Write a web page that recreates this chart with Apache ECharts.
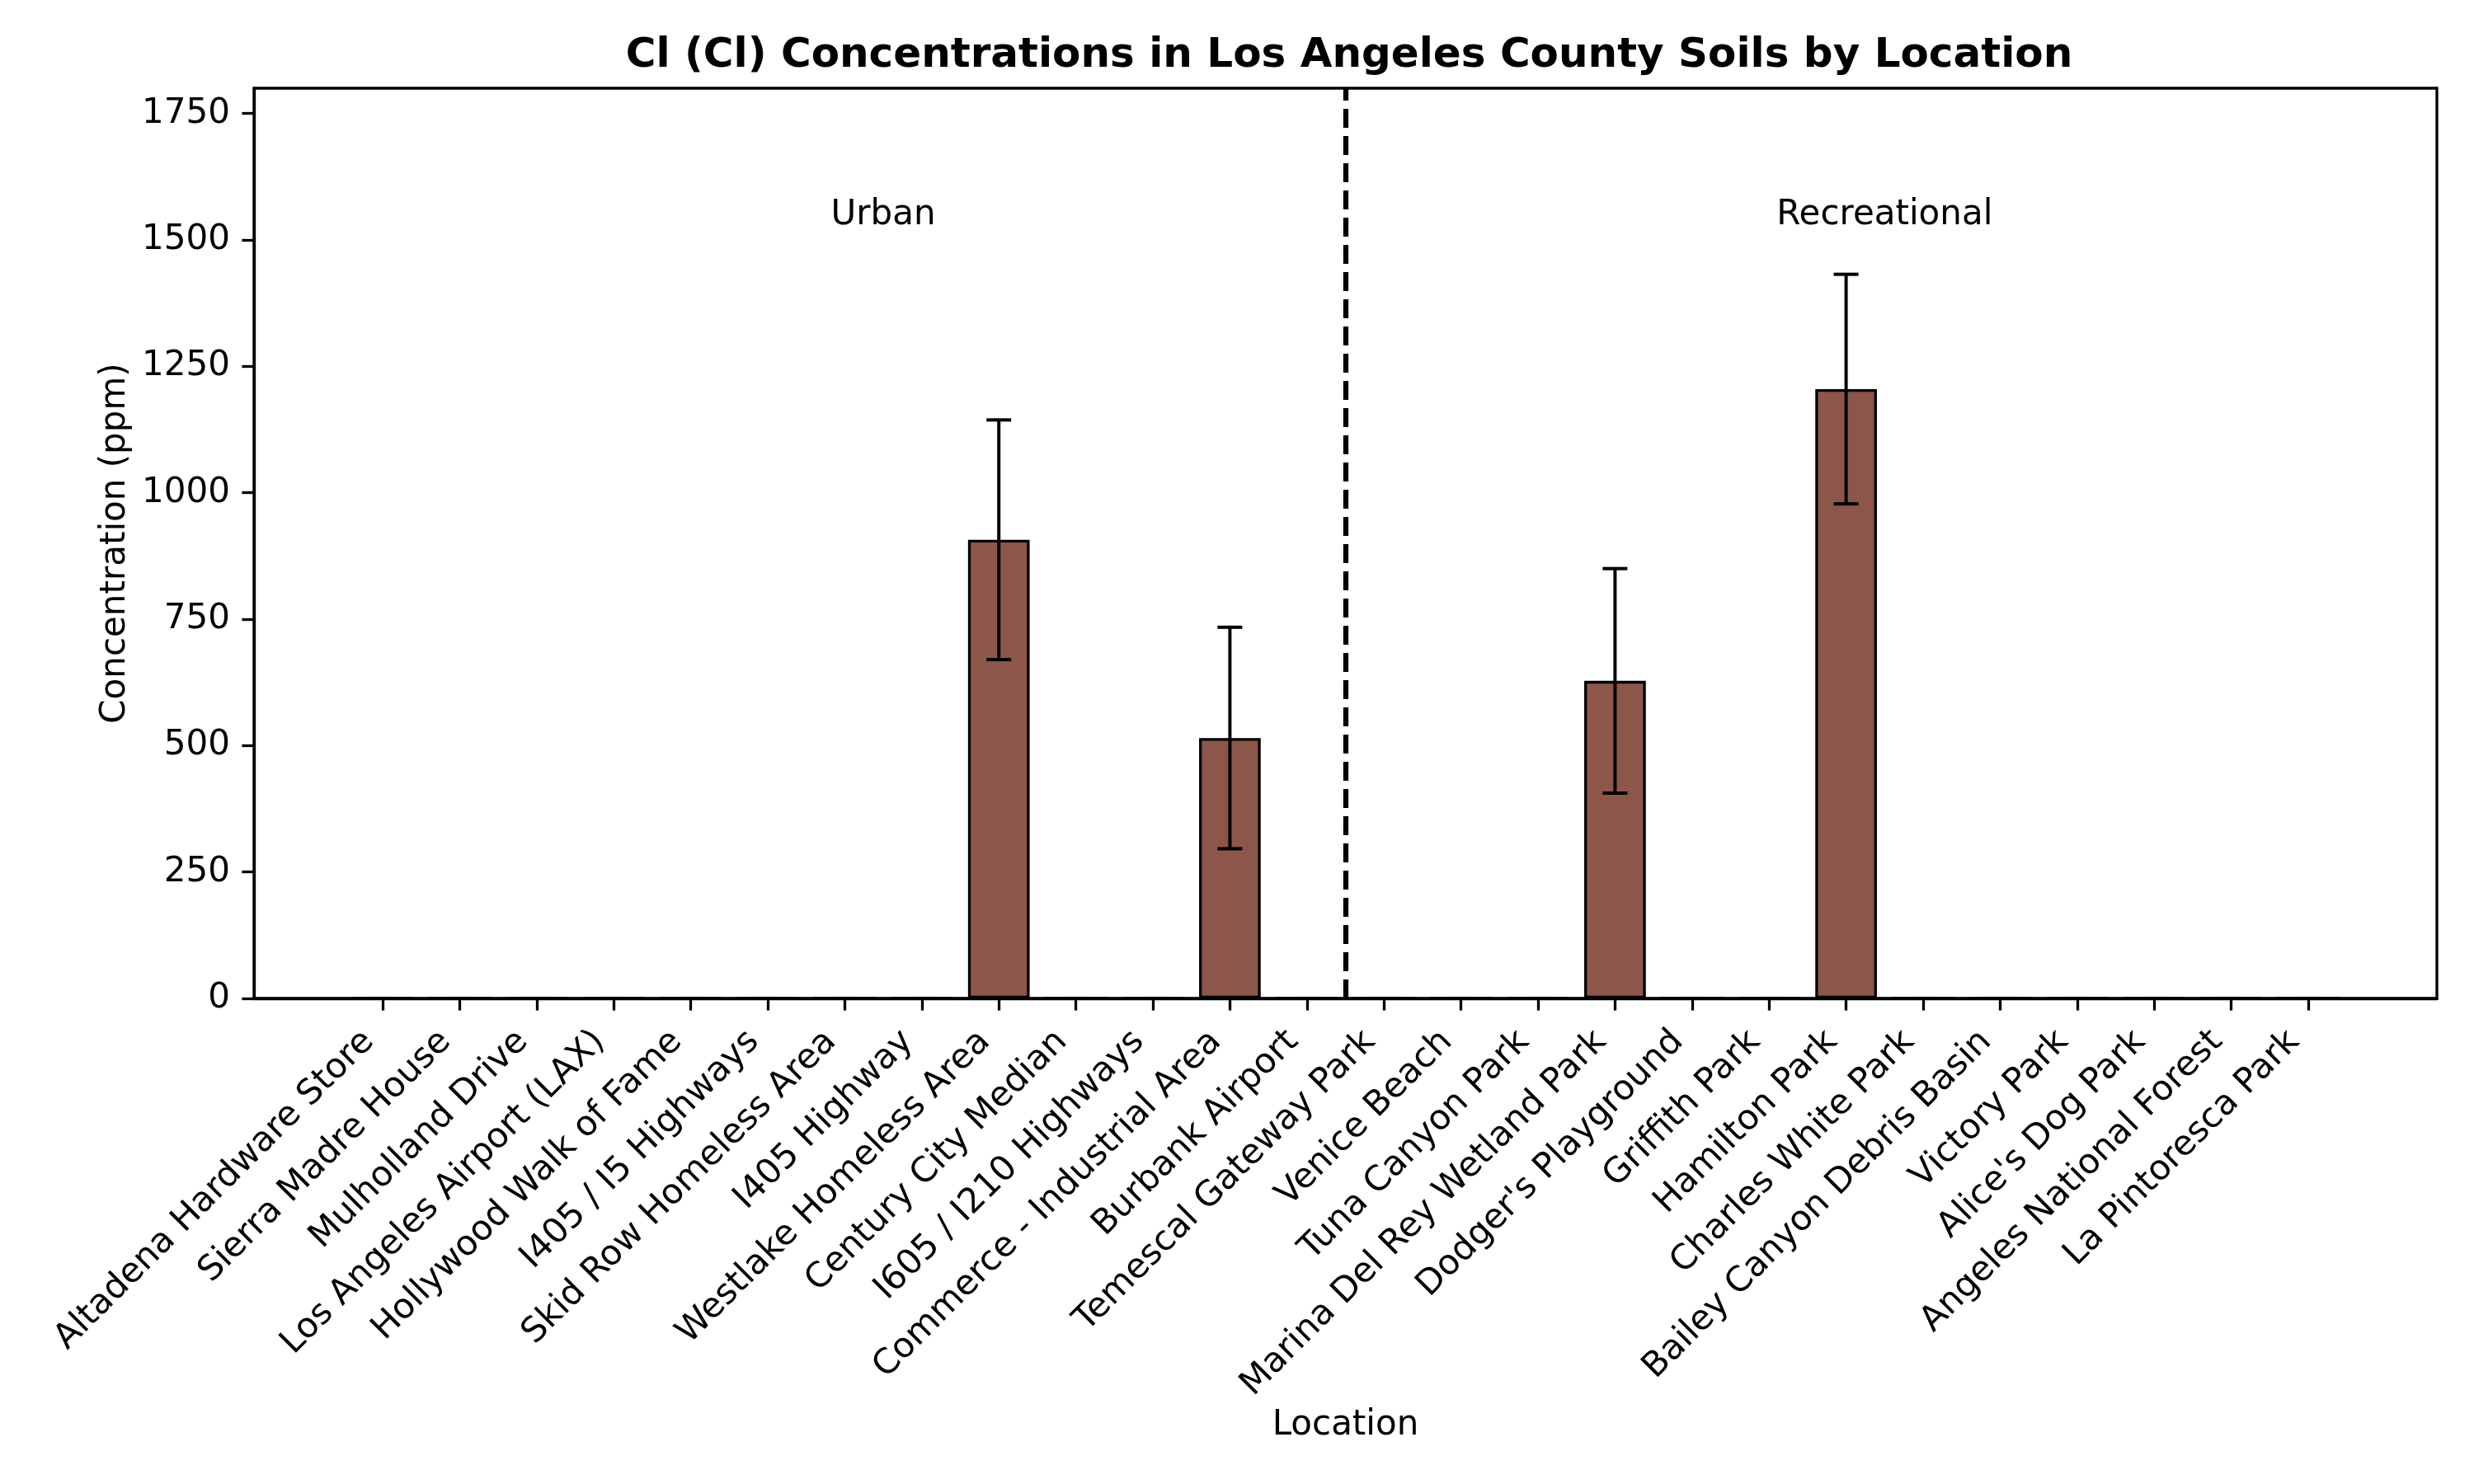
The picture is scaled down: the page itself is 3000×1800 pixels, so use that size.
<!DOCTYPE html>
<html>
<head>
<meta charset="utf-8">
<script src="https://cdn.jsdelivr.net/npm/echarts@6/dist/echarts.min.js"></script>
<style>
  html, body { margin: 0; padding: 0; background: #fff; }
  #chart { width: 3000px; height: 1800px; }
</style>
</head>
<body>
<div id="chart"></div>
<script>
// locations along the x axis
const locations = [
  'Altadena Hardware Store', 'Sierra Madre House', 'Mulholland Drive',
  'Los Angeles Airport (LAX)', 'Hollywood Walk of Fame', 'I405 / I5 Highways',
  'Skid Row Homeless Area', 'I405 Highway', 'Westlake Homeless Area',
  'Century City Median', 'I605 / I210 Highways', 'Commerce - Industrial Area',
  'Burbank Airport', 'Temescal Gateway Park', 'Venice Beach', 'Tuna Canyon Park',
  'Marina Del Rey Wetland Park', "Dodger's Playground", 'Griffith Park',
  'Hamilton Park', 'Charles White Park', 'Bailey Canyon Debris Basin',
  'Victory Park', "Alice's Dog Park", 'Angeles National Forest', 'La Pintoresca Park'
];
// mean Cl concentration (ppm)
const concentrations = [0, 0, 0, 0, 0, 0, 0, 0, 907, 0, 0, 515, 0,
                        0, 0, 0, 628, 0, 0, 1205, 0, 0, 0, 0, 0, 0];
// standard deviation (ppm)
const errors = [0, 0, 0, 0, 0, 0, 0, 0, 237, 0, 0, 219, 0,
                0, 0, 0, 222, 0, 0, 227, 0, 0, 0, 0, 0, 0];
const yTicks = [0, 250, 500, 750, 1000, 1250, 1500, 1750];
const groupNames = ['Urban', 'Recreational'];
const groupX = [6.5, 19.5];
const groupY = 1548;
const dividerX = 12.5;

const FONT = 'DejaVu Sans';
const chart = echarts.init(document.getElementById('chart'), null, { renderer: 'canvas' });

const barData = concentrations.map((v, i) => [i, v]);
const errData = concentrations.map((v, i) => [i, v - errors[i], v + errors[i]]);
const xIdx = locations.map((_, i) => i);

chart.setOption({
  animation: false,
  backgroundColor: '#fff',
  title: {
    text: 'Cl (Cl) Concentrations in Los Angeles County Soils by Location',
    left: 1631,
    top: 38,
    textAlign: 'center',
    textStyle: { fontFamily: FONT, fontSize: 50, fontWeight: 'bold', color: '#000' }
  },
  grid: {
    left: 308, right: 45, top: 107, bottom: 589,
    show: true, borderColor: '#000', borderWidth: 3.3
  },
  xAxis: {
    type: 'value',
    min: -1.67,
    max: 26.67,
    name: 'Location',
    nameLocation: 'middle',
    nameGap: 496,
    nameTextStyle: { fontFamily: FONT, fontSize: 42, color: '#000' },
    axisLine: { show: true, onZero: false, lineStyle: { color: '#000', width: 3.3 } },
    axisTick: { show: true, length: 14.6, customValues: xIdx, lineStyle: { color: '#000', width: 3.3 } },
    splitLine: { show: false },
    axisLabel: {
      customValues: xIdx,
      rotate: 45,
      margin: 29,
      padding: [0, 24, 0, 0],
      fontFamily: FONT, fontSize: 42, color: '#000',
      formatter: v => locations[Math.round(v)]
    }
  },
  yAxis: {
    type: 'value',
    min: 0,
    max: 1800,
    name: 'Concentration (ppm)',
    nameLocation: 'middle',
    nameRotate: 90,
    nameGap: 143,
    nameTextStyle: { fontFamily: FONT, fontSize: 42, color: '#000' },
    axisLine: { show: true, onZero: false, lineStyle: { color: '#000', width: 3.3 } },
    axisTick: { show: true, length: 14.6, customValues: yTicks, lineStyle: { color: '#000', width: 3.3 } },
    splitLine: { show: false },
    axisLabel: {
      customValues: yTicks,
      margin: 29,
      fontFamily: FONT, fontSize: 42, color: '#000',
      formatter: v => String(v)
    }
  },
  series: [
    {
      type: 'bar',
      data: barData,
      barWidth: 74.7,
      itemStyle: { color: '#8c564b', borderColor: '#000', borderWidth: 3.3 },
      markLine: {
        silent: true,
        symbol: 'none',
        label: { show: false },
        lineStyle: { color: '#000', width: 6.25, type: [23, 10] },
        data: [[{ coord: [dividerX, 0] }, { coord: [dividerX, 1800] }]]
      }
    },
    {
      type: 'custom',
      data: errData,
      z: 5,
      renderItem: function (params, api) {
        const x = api.value(0);
        const lo = api.coord([x, api.value(1)]);
        const hi = api.coord([x, api.value(2)]);
        const cap = 15;
        const style = { stroke: '#000', lineWidth: 4 };
        return {
          type: 'group',
          children: [
            { type: 'line', shape: { x1: lo[0], y1: lo[1], x2: hi[0], y2: hi[1] }, style },
            { type: 'line', shape: { x1: hi[0] - cap, y1: hi[1], x2: hi[0] + cap, y2: hi[1] }, style },
            { type: 'line', shape: { x1: lo[0] - cap, y1: lo[1], x2: lo[0] + cap, y2: lo[1] }, style }
          ]
        };
      }
    },
    {
      type: 'custom',
      data: groupNames.map((n, i) => [groupX[i], groupY, n]),
      z: 6,
      renderItem: function (params, api) {
        const p = api.coord([api.value(0), api.value(1)]);
        return {
          type: 'text',
          x: p[0], y: p[1],
          style: {
            text: groupNames[params.dataIndex],
            font: '42px "DejaVu Sans"',
            fill: '#000',
            align: 'center',
            verticalAlign: 'middle'
          }
        };
      }
    }
  ]
});
</script>
</body>
</html>
